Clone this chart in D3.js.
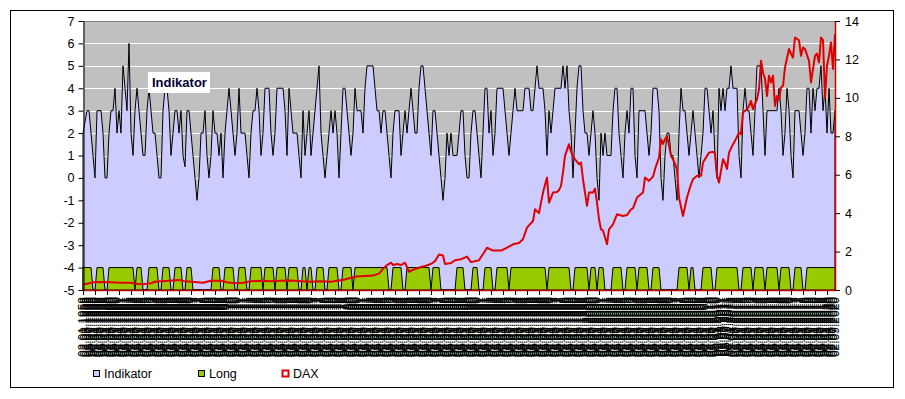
<!DOCTYPE html>
<html>
<head>
<meta charset="utf-8">
<script src="https://cdn.jsdelivr.net/npm/d3@7"></script>
<style>
  body { margin: 0; background: #fff; }
  text { font-family: 'Liberation Sans', Arial, sans-serif; }
</style>
</head>
<body>
<svg id="chart" width="905" height="399"></svg>
<script>
// Indikator, one value per period
const indikator = [
  2, 2.5, 3, 3, 2, 1, 0, 3, 3, 3, 2, 0, 0, 2, 3, 3, 4, 2, 3, 2,
  5, 4, 3, 6, 2, 1, 3, 4, 3, 2, 1, 1, 3, 4, 3, 2, 2, 1, 0, 0,
  3, 4, 4, 3, 1, 2, 3, 3, 2, 3, 1, 0.5, 3, 3, 2, 1, 0, -1, 0, 2,
  2, 3,
  1, 0, 1, 3, 2, 2, 1, 2, 0, 2, 3, 4, 3, 2, 1, 2, 4, 2, 2, 2,
  1, 0, 2, 3, 3, 4, 3, 1, 2, 4, 4, 4, 2, 1, 2, 4, 4, 4, 4, 3,
  1, 4, 3, 2, 2, 2, 1, 0, 3, 1, 2, 3, 1, 2, 3, 4, 5, 2, 1, 0,
  1, 2,
  3, 2, 3, 2, 0, 2, 4, 4, 3, 2, 1, 2, 4, 3, 3, 3, 2, 4, 5, 5,
  5, 5, 4, 3, 3, 2, 3, 3, 2, 1, 0, 2, 3, 3, 3, 1, 2, 3, 2, 3,
  4, 3, 2, 2, 4, 5, 5, 4, 3, 2, 1, 3, 3, 2, 1, 0, -1, 0, 2, 1,
  2, 1, 1,
  1, 2, 3, 3, 1, 0, 0, 2, 3, 3, 2, 1, 0, 2, 4, 4, 2, 3, 1, 2,
  4, 4, 4, 4, 3, 2, 1, 2, 3, 4, 3, 3, 3, 3, 4, 4, 4, 3, 3, 4,
  5, 4, 4, 4, 3, 1, 3, 2, 3, 4, 4, 4, 4, 5, 4, 5, 3, 2, 0, 2,
  4, 5,
  5, 3, 2, 2, 1, 2, 3, 2, 0, -1, 2, 1, 2, 1, 1, 1, 3, 4, 4, 2,
  1, 0, 2, 3, 2, 4, 4, 1, 0, 3, 3, 3, 3, 2, 1, 2, 4, 4, 4, 3,
  0, -1, 1, 2, 2, 1, 1, 0, -1, 2, 4, 3, 3, 2, 1, 2, 3, 2, 1, 0,
  1, 2,
  4, 4, 3, 2, 3, 1, 0, 4, 3, 4, 3, 4, 4, 5, 4, 4, 4, 1, 0, 3,
  4, 3, 3, 2, 1, 3, 5, 5, 5, 3, 1, 3, 3, 3, 3, 3, 3, 4, 3, 1,
  2, 4, 3, 1, 0, 3, 3, 3, 2, 1, 2, 4, 4, 2, 4, 3, 4, 4, 5, 3,
  4, 2, 4, 2, 2, 3
]

// periods in which "Long" is 1 (first and last period index)
const longRuns = [
  [0, 4], [7, 10], [13, 25], [27, 29], [33, 37], [40, 43], [46, 49], [52, 54],
  [65, 68], [71, 75], [78, 81], [84, 89], [91, 95], [97, 101], [103, 107],
  [110, 111], [113, 114], [117, 120], [123, 127], [130, 134], [136, 152],
  [155, 159], [162, 173], [175, 178], [187, 190], [195, 197], [201, 204],
  [207, 212], [214, 231], [233, 243], [246, 252], [254, 256], [258, 260],
  [265, 269], [272, 276], [278, 282], [285, 288], [298, 302], [304, 305],
  [310, 314], [317, 327], [330, 334], [336, 340], [342, 347], [349, 353],
  [356, 359], [362, 376]
]

// DAX (in thousands): [period index, value]
const daxSeries = [
  [0, 0.3], [1, 0.3], [5, 0.4], [9, 0.42], [14, 0.4], [19, 0.38], [24, 0.38], [26, 0.32],
  [30, 0.3], [34, 0.35], [36, 0.43], [41, 0.47], [45, 0.5], [48, 0.52], [51, 0.45], [56, 0.42],
  [60, 0.38], [64, 0.48], [69, 0.48], [72, 0.4], [76, 0.35], [80, 0.38], [84, 0.45], [89, 0.48],
  [94, 0.45], [99, 0.48], [104, 0.5], [109, 0.45], [114, 0.43], [119, 0.45], [124, 0.43],
  [131, 0.55], [134, 0.64], [137, 0.7], [141, 0.73], [145, 0.75], [148, 0.85], [150, 1.1],
  [152, 1.3], [154, 1.42], [155, 1.3], [157, 1.35], [159, 1.3], [161, 1.42], [163, 0.95],
  [165, 1.05], [169, 1.2], [171, 1.25], [174, 1.35], [176, 1.5], [178, 1.85], [180, 1.8],
  [181, 1.35], [184, 1.4], [186, 1.55], [189, 1.6], [192, 1.74], [194, 1.45], [198, 1.55],
  [201, 2.03], [202, 2.2], [205, 2.05], [209, 2.05], [212, 2.2], [215, 2.38], [218, 2.45],
  [220, 2.64], [222, 3.25], [225, 3.59], [226, 4.2], [228, 4.0], [229, 4.55], [230, 5.07],
  [232, 5.85], [233, 4.55], [235, 5.07], [237, 5.1], [238, 5.2], [239, 5.42], [240, 6.11],
  [241, 6.98], [243, 7.59], [244, 7.2], [245, 6.98], [246, 6.8], [248, 6.55], [249, 6.63],
  [250, 5.76], [252, 4.38], [253, 5.07], [255, 5.07], [256, 5.28], [257, 4.55], [258, 3.68],
  [259, 3.16], [260, 3.1], [262, 2.38], [263, 3.16], [265, 3.42], [267, 3.94], [270, 3.85],
  [272, 3.9], [274, 4.2], [275, 4.25], [277, 4.81], [280, 5.07], [281, 5.85], [283, 5.68],
  [285, 5.9], [286, 6.29], [288, 6.89], [289, 7.85], [290, 7.6], [291, 7.85], [292, 8.02],
  [294, 6.98], [295, 6.8], [297, 6.29], [298, 4.81], [300, 3.85], [302, 4.81], [304, 5.5],
  [305, 5.76], [307, 5.94], [309, 5.94], [310, 6.63], [313, 7.15], [315, 7.2], [316, 7.1],
  [317, 5.94], [318, 5.59], [319, 6.2], [320, 6.81], [321, 6.6], [322, 6.3], [323, 7.15],
  [325, 7.59], [326, 7.76], [328, 8.19], [329, 8.1], [330, 9.24], [332, 9.41], [333, 9.58],
  [334, 9.84], [335, 9.41], [337, 9.93], [338, 10.45], [339, 11.93], [340, 11.32], [341, 11.0],
  [342, 10.1], [343, 11.15], [344, 10.8], [345, 11.15], [346, 9.58], [347, 10.1], [348, 9.9],
  [349, 10.54], [350, 10.63], [351, 11.58], [353, 12.54], [354, 12.3], [355, 12.1], [356, 13.14],
  [358, 13.0], [359, 12.19], [360, 12.62], [361, 12.54], [363, 11.93], [364, 10.8], [365, 11.5],
  [366, 12.19], [367, 12.3], [368, 11.84], [369, 13.14], [370, 13.0], [371, 10.02], [372, 11.67],
  [373, 12.19], [374, 12.88], [375, 11.5], [376, 13.32]
]

const firstPeriod = new Date(1958, 0, 2)
const monthsPerPeriod = 2
const leftTicks = d3.range(-5, 8)
const rightTicks = [0, 2, 4, 6, 8, 10, 12, 14]
const legendItems = ['Indikator', 'Long', 'DAX']

const svg = d3.select('#chart')
const n = indikator.length
const x = d3.scaleLinear().domain([0, n - 1]).range([83, 835])
const yL = d3.scaleLinear().domain([-5, 7]).range([290, 21])
const yR = d3.scaleLinear().domain([0, 14]).range([290, 21])

// chart frame
svg.append('rect')
  .attr('x', 10.5).attr('y', 10.5).attr('width', 883).attr('height', 377)
  .attr('fill', '#fff').attr('stroke', '#000')

// plot area
svg.append('rect')
  .attr('x', 83).attr('y', 21).attr('width', 752).attr('height', 269)
  .attr('fill', '#c0c0c0')

svg.append('g')
  .selectAll('line')
  .data(leftTicks.filter((v) => v > -5 && v < 7))
  .enter()
  .append('line')
  .attr('x1', 83).attr('x2', 835)
  .attr('y1', (d) => Math.round(yL(d)) + 0.5)
  .attr('y2', (d) => Math.round(yL(d)) + 0.5)
  .attr('stroke', '#fff')

svg.append('line')
  .attr('x1', 83).attr('x2', 835).attr('y1', 21.5).attr('y2', 21.5)
  .attr('stroke', '#808080')

// Indikator area
const indArea = d3.area()
  .x((d, i) => x(i))
  .y0(yL(-5))
  .y1((d) => yL(d))

svg.append('path')
  .datum(indikator)
  .attr('d', indArea)
  .attr('fill', '#ccccff')
  .attr('stroke', '#000')
  .attr('stroke-width', 1)

// Long area
const longSeries = indikator.map((d, i) =>
  longRuns.some(([a, b]) => i >= a && i <= b) ? 1 : 0)

const longArea = d3.area()
  .x((d, i) => x(i))
  .y0(yL(-5))
  .y1((d) => yL(-5 + d))

svg.append('path')
  .datum(longSeries)
  .attr('d', longArea)
  .attr('fill', '#99cc00')
  .attr('stroke', '#000')
  .attr('stroke-width', 1)

// DAX line (right axis)
const daxLine = d3.line()
  .x((d) => x(d[0]))
  .y((d) => yR(d[1]))

svg.append('path')
  .datum(daxSeries)
  .attr('d', daxLine)
  .attr('fill', 'none')
  .attr('stroke', '#e00000')
  .attr('stroke-width', 2)
  .attr('stroke-linejoin', 'round')

// axes
const plain = (d) => String(d)

const leftAxis = svg.append('g')
  .attr('transform', 'translate(83.5,0)')
  .call(d3.axisLeft(yL).tickValues(leftTicks).tickFormat(plain).tickSize(5).tickSizeOuter(0).tickPadding(4))
leftAxis.selectAll('text').attr('font-size', 12.5).attr('fill', '#000').style('font-family', "'Liberation Sans', Arial")

const rightAxis = svg.append('g')
  .attr('transform', 'translate(835,0)')
  .call(d3.axisRight(yR).tickValues(rightTicks).tickFormat(plain).tickSize(5).tickSizeOuter(0).tickPadding(5))
rightAxis.select('.domain').attr('stroke', '#cc0000').attr('stroke-width', 1.5)
rightAxis.selectAll('text').attr('font-size', 12.5).attr('fill', '#000').style('font-family', "'Liberation Sans', Arial")

const bottomAxis = svg.append('g')
  .attr('transform', 'translate(0,290)')
  .call(d3.axisBottom(x).tickValues(d3.range(0, n, 6)).tickFormat('').tickSize(5).tickSizeOuter(0))
bottomAxis.select('.domain').attr('stroke', '#cc0000').attr('stroke-width', 1.5)

// category labels (dates, rotated, overlapping)
const fmt = d3.timeFormat('%d.%m.%Y')
svg.append('g')
  .selectAll('text')
  .data(indikator.map((d, i) => d3.timeMonth.offset(firstPeriod, i * monthsPerPeriod)))
  .enter()
  .append('text')
  .attr('transform', (d, i) => `translate(${x(i)},297) rotate(-90)`)
  .attr('text-anchor', 'end')
  .attr('dy', '0.35em')
  .attr('font-size', 12)
  .attr('fill', '#000')
  .text((d) => fmt(d))

// series label inside plot
svg.append('rect')
  .attr('x', 148).attr('y', 72).attr('width', 62).attr('height', 21)
  .attr('fill', '#fff')
svg.append('text')
  .attr('x', 152).attr('y', 87)
  .attr('font-size', 13).attr('font-weight', 'bold').attr('fill', '#000033')
  .text('Indikator')

// legend
const legendX = [93, 198, 282]
const legend = svg.append('g')
  .selectAll('g')
  .data(legendItems)
  .enter()
  .append('g')
  .attr('transform', (d, i) => `translate(${legendX[i]},370)`)

legend.append('rect')
  .attr('x', 0.5).attr('y', 0.5).attr('width', 6).attr('height', 6)
  .attr('fill', (d, i) => ['#ccccff', '#99cc00', '#fff'][i])
  .attr('stroke', (d, i) => ['#000', '#000', '#e00000'][i])
  .attr('stroke-width', (d, i) => (i === 2 ? 2 : 1))

legend.append('text')
  .attr('x', 11).attr('y', 8)
  .attr('font-size', 12.5)
  .attr('fill', '#000')
  .text((d) => d)
</script>
</body>
</html>
